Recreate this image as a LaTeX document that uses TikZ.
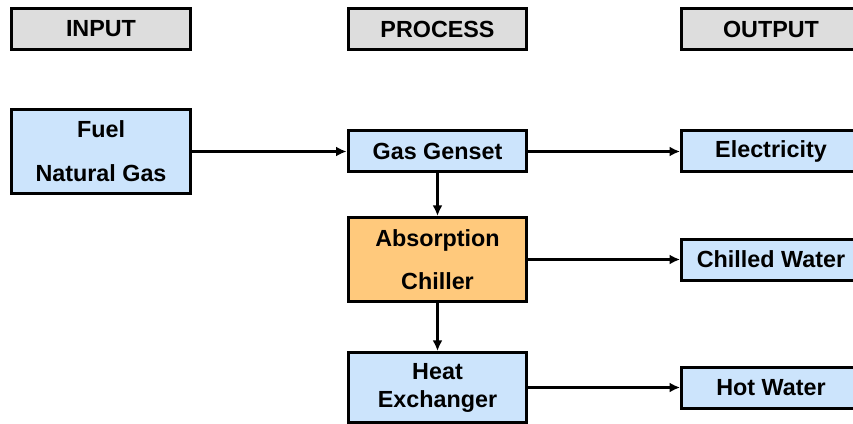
\documentclass[tikz,border=0pt]{standalone}
\usepackage{fontspec}
\setmainfont{Liberation Sans}
\usetikzlibrary{arrows.meta, positioning}

\definecolor{headgray}{HTML}{DDDDDD}
\definecolor{boxblue}{HTML}{CCE4FC}
\definecolor{boxorange}{HTML}{FFC97C}

\begin{document}
\begin{tikzpicture}[x=0.75pt, y=-0.75pt, >={Latex[length=8pt,width=7.5pt]},
  box/.style={rectangle, draw, line width=2.25pt, minimum width=134pt,
    minimum height=30.75pt, inner sep=0pt, align=center,
    font=\fontsize{17.5}{20}\selectfont\bfseries},
  headbox/.style={box, fill=headgray},
  flowbox/.style={box, fill=boxblue},
  flow/.style={->, line width=2.4pt}]
  \useasboundingbox (0,0) rectangle (853,424);

  % Column headings
  \node[headbox] (input)   at (101,29)   {INPUT};
  \node[headbox] (process) at (437.5,29) {PROCESS};
  \node[headbox] (output)  at (771,29)   {OUTPUT};

  % Input
  \node[flowbox, minimum height=63pt] (fuel) at (101,151.5) {Fuel\\[13pt]Natural\ Gas};

  % Process
  \node[flowbox] (genset) at (437.5,151.5) {Gas\ Genset};
  \node[box, fill=boxorange, minimum height=63pt] (chiller) at (437.5,259.5) {Absorption\\[12pt]Chiller};
  \node[flowbox, minimum height=52.5pt] (hx) at (437.5,387.5) {Heat\\[1pt]Exchanger};

  % Output
  \node[flowbox] (elec)    at (771,151.5) {Electricity};
  \node[flowbox] (chilled) at (771,259.5) {Chilled\ Water};
  \node[flowbox] (hot)     at (771,387.5) {Hot\ Water};

  % Flows
  \draw[flow] (fuel) -- (genset);
  \draw[flow] (genset) -- (elec);
  \draw[flow] (genset) -- (chiller);
  \draw[flow] (chiller) -- (chilled);
  \draw[flow] (chiller) -- (hx);
  \draw[flow] (hx) -- (hot);
\end{tikzpicture}
\end{document}
